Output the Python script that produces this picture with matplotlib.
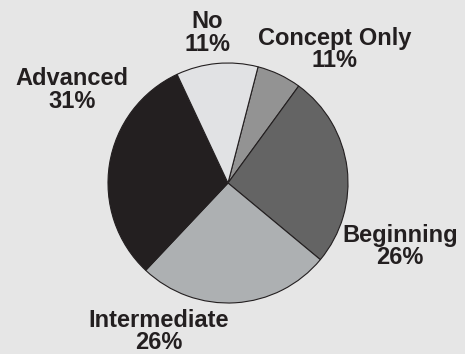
import matplotlib.pyplot as plt

# slice order, clockwise from the No / Concept Only boundary
categories = ['Concept Only', 'Beginning', 'Intermediate', 'Advanced', 'No']
values = [6, 26, 26, 31, 11]
pct_labels = ['11%', '26%', '26%', '31%', '11%']
colors = ['#939393', '#646464', '#adb0b2', '#231f20', '#e1e2e4']

# label centres in pie-radius units
label_pos = [(0.89, 1.11), (1.435, -0.53), (-0.58, -1.24), (-1.30, 0.775), (-0.175, 1.25)]

bg = '#e6e6e6'
fig = plt.figure(figsize=(4.65, 3.54), dpi=100, facecolor=bg)
ax = fig.add_axes([0, 0, 1, 1])
ax.set_facecolor(bg)

ax.pie(values, colors=colors, startangle=75.5, counterclock=False,
       wedgeprops=dict(edgecolor='#231f20', linewidth=0.8))

for name, pct, (x, y) in zip(categories, pct_labels, label_pos):
    ax.text(x, y, name + '\n' + pct, ha='center', va='center',
            fontsize=17, fontweight='bold', family='Liberation Sans',
            color='#231f20', linespacing=0.95)

ax.set_xlim(-228 / 120, (465 - 228) / 120)
ax.set_ylim(-(354 - 183) / 120, 183 / 120)
ax.set_aspect('equal', adjustable='box')
ax.axis('off')

fig.savefig('out.png', dpi=100, facecolor=bg)
